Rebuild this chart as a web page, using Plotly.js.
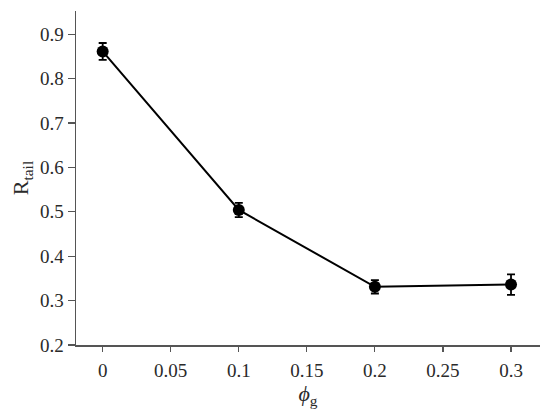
<!DOCTYPE html>
<html>
<head>
<meta charset="utf-8">
<script src="https://cdn.plot.ly/plotly-3.0.1.min.js"></script>
<style>html,body{margin:0;padding:0;background:#fff;}#chart{width:550px;height:417px;}</style>
</head>
<body>
<div id="chart"></div>
<script>
const phiG = [0, 0.1, 0.2, 0.3];
const rTail = [0.861, 0.504, 0.331, 0.336];
const rTailErr = [0.019, 0.016, 0.015, 0.023];
const xTickVals = [0, 0.05, 0.1, 0.15, 0.2, 0.25, 0.3];
const xTickText = ['0', '0.05', '0.1', '0.15', '0.2', '0.25', '0.3'];
const yTickVals = [0.2, 0.3, 0.4, 0.5, 0.6, 0.7, 0.8, 0.9];
const yTickText = ['0.2', '0.3', '0.4', '0.5', '0.6', '0.7', '0.8', '0.9'];

const SERIF = 'Liberation Serif';
function tf() { return {family: SERIF, size: 19, color: '#2a2a2a'}; }
function ttf() { return {family: SERIF, size: 22, color: '#2a2a2a'}; }

Plotly.newPlot('chart', [{
  x: phiG, y: rTail, type: 'scatter', mode: 'lines+markers',
  line: {color: '#000', width: 2},
  marker: {color: '#000', size: 12},
  error_y: {type: 'data', array: rTailErr, visible: true, color: '#000', thickness: 1.8, width: 4}
}], {
  width: 550, height: 417,
  margin: {l: 76, r: 10, t: 11, b: 72},
  paper_bgcolor: '#fff', plot_bgcolor: '#fff',
  font: tf(),
  showlegend: false,
  xaxis: {
    range: [-0.0196, 0.3213], tickmode: 'array', tickvals: xTickVals, ticktext: xTickText,
    showline: true, linecolor: '#555', linewidth: 1.5, ticks: 'outside', ticklen: 5, tickwidth: 1.2, tickcolor: '#555',
    showgrid: false, zeroline: false, tickfont: tf(), ticklabelstandoff: 3,
    title: {text: '<i>ϕ</i><sub>g</sub>', font: ttf(), standoff: 5}
  },
  yaxis: {
    range: [0.2, 0.952], tickmode: 'array', tickvals: yTickVals, ticktext: yTickText,
    showline: true, linecolor: '#555', linewidth: 1.5, ticks: 'outside', ticklen: 7, tickwidth: 1.2, tickcolor: '#555',
    showgrid: false, zeroline: false, tickfont: tf(),
    title: {text: 'R<sub>tail</sub>', font: ttf(), standoff: 5}
  }
}, {displayModeBar: false, staticPlot: true});
</script>
</body>
</html>
